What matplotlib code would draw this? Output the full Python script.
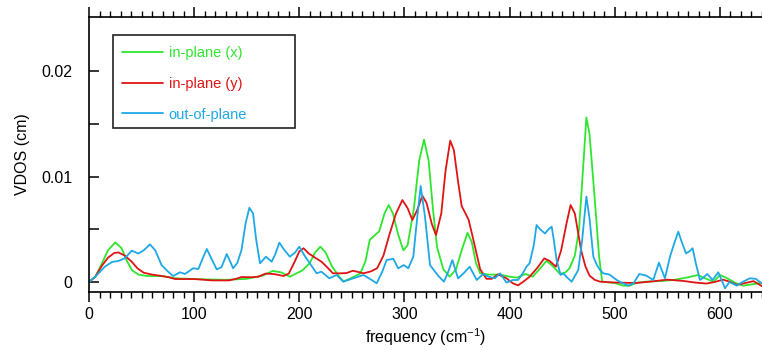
import matplotlib
matplotlib.use("Agg")
import matplotlib.pyplot as plt
from matplotlib.patches import Rectangle
from matplotlib.ticker import MultipleLocator, FixedLocator

plt.rcParams['font.family'] = ['Liberation Sans', 'DejaVu Sans']
plt.rcParams['mathtext.fontset'] = 'custom'
plt.rcParams['mathtext.rm'] = 'Liberation Sans'
plt.rcParams['mathtext.default'] = 'regular'

# ---- data (VDOS values in units of 1e-3 cm) ----
freq_x = [0, 6, 12, 18, 25, 31, 36, 41, 47, 55, 70, 82, 95, 110, 130, 150, 165, 175, 183, 191,
          197, 203, 210, 215, 220, 225, 231, 238, 242, 250, 258, 263, 267, 272, 276, 281, 285, 289,
          294, 299, 303, 309, 314, 318.6, 323, 327, 331, 337, 343, 349, 355, 360, 364, 368, 372,
          380, 391, 400, 407, 415, 422, 430, 435, 440, 448, 453, 457, 462, 466, 470, 473, 476, 481,
          485, 488, 500, 508, 514, 522, 530, 545, 556, 570, 579, 587, 594, 600, 606, 615, 622, 632, 640]
vdos_x = [0, 0.5, 1.7, 3.0, 3.76, 3.2, 2.0, 1.1, 0.7, 0.57, 0.55, 0.35, 0.3, 0.25, 0.2, 0.3, 0.6, 1.05, 0.9, 0.5,
          0.8, 1.1, 1.8, 2.8, 3.35, 2.8, 1.5, 0.5, 0.05, 0.4, 0.8, 2.0, 4.0, 4.45, 4.8, 6.5, 7.3, 6.5,
          4.5, 3.0, 3.5, 7.0, 11.5, 13.5, 11.5, 7.0, 3.3, 1.2, 0.5, 1.2, 3.2, 4.67, 3.8, 1.8, 0.82,
          0.7, 0.7, 0.5, 0.41, 0.76, 0.5, 1.4, 2.0, 1.6, 0.76, 0.9, 1.3, 2.5, 5.0, 11.0, 15.6, 14.0, 7.8,
          2.5, 0.03, -0.1, -0.35, -0.35, -0.05, 0.03, 0.1, 0.19, 0.45, 0.66, 0.3, 0.03, 0.66, 0.4, -0.1, -0.35, -0.2, -0.06]

freq_y = [0, 6, 12, 18, 24, 28, 34, 40.6, 46, 52, 60, 69, 76, 82, 100, 117, 133, 140, 145, 155, 161, 168,
          176, 185, 190, 195, 200, 204, 209, 216, 221, 226, 232, 239, 245, 251, 256, 261, 268, 274, 280,
          286, 292, 298, 303, 307.5, 312, 317, 321, 326, 330, 335, 339, 343.5, 347, 351, 354.4, 358, 361,
          366, 372, 378, 383, 389, 397, 403, 408, 414, 419, 426, 433, 438, 444, 449, 454, 458, 462, 468,
          472, 476, 481, 486, 500, 520, 535, 550, 565, 577, 587, 595, 603, 610, 616, 624, 632, 640]
vdos_y = [0, 0.5, 1.5, 2.3, 2.75, 2.8, 2.5, 1.93, 1.3, 0.88, 0.7, 0.57, 0.45, 0.28, 0.28, 0.15, 0.15, 0.3, 0.47, 0.45, 0.5, 0.8,
          0.75, 0.57, 0.8, 1.8, 2.9, 3.2, 2.7, 2.24, 1.93, 1.45, 0.82, 0.82, 0.85, 1.07, 0.95, 0.82, 1.0, 1.3, 2.5,
          4.6, 6.5, 7.77, 7.0, 5.88, 6.8, 8.18, 7.5, 5.5, 4.45, 6.5, 10.5, 13.4, 12.5, 9.5, 7.2, 6.5, 5.9,
          3.8, 1.2, 0.3, 0.3, 0.72, 0.35, -0.12, -0.32, 0.1, 0.5, 1.3, 2.24, 2.0, 1.45, 3.0, 5.5, 7.3, 6.5, 3.0,
          1.5, 0.6, 0.2, 0.03, -0.05, -0.1, 0.05, 0.22, 0.1, -0.06, -0.15, 0.0, 0.22, 0.0, -0.28, -0.1, 0.08, -0.4]

freq_z = [0, 6, 15, 22, 28, 34, 40.6, 46.9, 52, 58, 63, 69, 75, 80, 86.6, 91.3, 99, 104, 108, 112, 116,
          121.4, 126, 131, 134, 137, 141, 145, 149, 152.5, 156, 159, 162.6, 168.3, 173.7, 177, 181, 186,
          191, 196, 200, 205, 210, 216.5, 221, 228.5, 235.5, 241.8, 251.3, 261, 267, 273.6, 279, 283,
          289.4, 294, 299.5, 303.6, 308.4, 312, 315.4, 319.5, 324.3, 329, 332, 337.5, 341, 345.5, 351,
          356, 362, 368.7, 375, 380, 386, 391, 397, 403, 408, 413, 416, 419, 423, 425.6, 429, 433.6, 437,
          440, 442, 444.7, 448.5, 451, 455, 459, 465.3, 469, 473, 476, 479.6, 483, 486, 489, 495, 501.8,
          507, 513, 518, 523.3, 530, 536.6, 542, 547.7, 552.5, 556, 560.4, 564, 567.7, 571, 574, 577,
          581, 584, 588, 593, 598.4, 602, 604.8, 609, 616, 622, 628.5, 634, 639.6]
vdos_z = [0, 0.5, 1.45, 1.9, 2.0, 2.24, 2.97, 2.7, 3.0, 3.57, 3.0, 1.6, 1.0, 0.57, 0.92, 0.76, 1.3, 1.23, 2.2, 3.13, 2.3,
          1.2, 1.4, 2.65, 2.0, 1.3, 1.8, 3.03, 5.6, 7.04, 6.5, 4.0, 1.77, 2.4, 1.93, 2.6, 3.73, 3.0,
          2.4, 2.8, 3.35, 2.5, 1.77, 0.82, 0.98, 0.35, 0.66, 0.03, 0.35, 0.66, 0.3, -0.12, 1.0, 2.08,
          2.2, 1.3, 1.6, 1.3, 2.4, 6.0, 9.1, 6.2, 1.6, 0.98, 0.6, 0.03, 0.8, 2.08, 0.35,
          0.8, 1.45, 0.19, 0.76, 0.5, 0.35, 0.82, -0.06, 0.19, 0.19, 0.9, 1.45, 1.77, 3.5, 5.4, 5.0, 4.6, 5.0,
          5.24, 4.0, 2.08, 0.66, 0.82, 0.4, 0.03, 1.14, 4.0, 8.1, 6.0, 2.4, 1.6, 1.14, 0.82, 0.7, 0.19,
          -0.1, -0.35, -0.1, 0.76, 0.6, 0.19, 1.83, 0.35, 2.4, 3.5, 4.77, 3.7, 2.72, 2.9, 3.2, 1.8,
          0.19, 0.4, 0.76, 0.19, 0.92, 0.1, -0.6, 0.0, -0.35, 0.03, 0.35, 0.3, -0.12]

series_labels = ['in-plane (x)', 'in-plane (y)', 'out-of-plane']
series_colors = ['#2ee62e', '#e01414', '#1ea8e6']
yticks = [0, 0.01, 0.02]
ytick_labels = ['0', '0.01', '0.02']
xticks = [0, 100, 200, 300, 400, 500, 600]

W, H = 762, 350
fig = plt.figure(figsize=(W / 100, H / 100), dpi=100)
ax = fig.add_axes([89 / W, 1 - 292 / H, (762 - 89) / W, (292 - 17) / H])

scale = 1e-3
handles = []
for fr, vd, lab, col in zip([freq_x, freq_y, freq_z], [vdos_x, vdos_y, vdos_z], series_labels, series_colors):
    h, = ax.plot(fr, [v * scale for v in vd], color=col, lw=1.3, label=lab,
                 solid_joinstyle='round', solid_capstyle='round')
    handles.append(h)

ax.set_xlim(0, 640)
ax.set_ylim(-0.00095, 0.02513)

ax.spines['right'].set_visible(False)
for s in ['left', 'bottom', 'top']:
    ax.spines[s].set_linewidth(1.2)

ax.xaxis.set_major_locator(FixedLocator(xticks))
ax.xaxis.set_minor_locator(MultipleLocator(10))
ax.set_xticklabels([str(t) for t in xticks])
ax.yaxis.set_major_locator(FixedLocator(yticks))
ax.set_yticklabels(ytick_labels)
ax.yaxis.set_minor_locator(FixedLocator([0.005, 0.015]))

ax.tick_params(axis='x', which='major', direction='out', length=7, width=1.1, top=True, labelsize=11.5, pad=4)
ax.tick_params(axis='x', which='minor', direction='out', length=4, width=1.0, top=True)
ax.tick_params(axis='y', which='both', direction='in', length=7, width=1.1, labelsize=11.5, pad=12)

ax.set_xlabel(r'frequency (cm$^{-1}$)', fontsize=11.5, labelpad=3)
ax.set_ylabel('VDOS (cm)', fontsize=11.5, labelpad=8)

# legend box (display pixel coords, origin bottom-left)
ax.add_patch(Rectangle((113, H - 127.5), 182, 92.5, transform=None, fill=False, lw=1.2,
                       ec='#222222', zorder=5, clip_on=False))
leg = ax.legend(handles=handles, loc='upper left', bbox_to_anchor=((122 - 89) / 673, (292 - 46) / 275),
                frameon=False, fontsize=10.5, handlelength=2.8, handletextpad=0.4, labelspacing=1.15,
                borderpad=0, borderaxespad=0)
for t, c in zip(leg.get_texts(), series_colors):
    t.set_color(c)

fig.savefig('out.png', dpi=100)
